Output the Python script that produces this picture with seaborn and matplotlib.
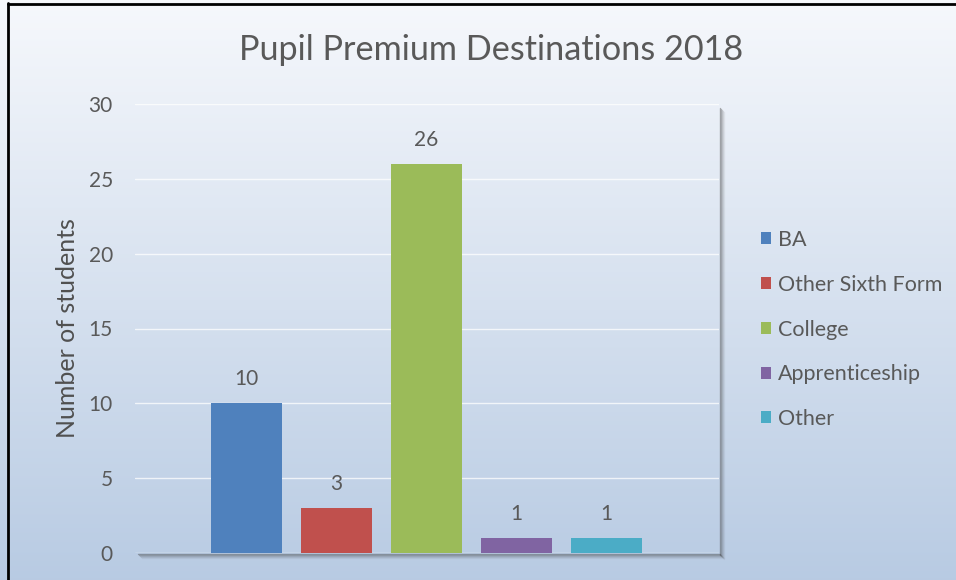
import numpy as np
import matplotlib
matplotlib.use("Agg")
import matplotlib.pyplot as plt
import seaborn as sns
from matplotlib.patches import Patch

# data
categories = ["BA", "Other Sixth Form", "College", "Apprenticeship", "Other"]
students = [10, 3, 26, 1, 1]
colors = ["#4f81bd", "#c0504d", "#9bbb59", "#8064a2", "#4bacc6"]
y_ticks = [0, 5, 10, 15, 20, 25, 30]

sns.set_theme(style="white")
plt.rcParams["font.family"] = ["Lato", "DejaVu Sans"]
text_col = "#595959"

W, H = 956, 580
fig = plt.figure(figsize=(W / 100, H / 100), dpi=100)

# background gradient + frame + plot shadow
bg = fig.add_axes([0, 0, 1, 1], zorder=0)
grad = np.linspace(0, 1, 256).reshape(-1, 1)
top = np.array([0.965, 0.973, 0.988])
bot = np.array([0.722, 0.796, 0.890])
img = top + grad[..., None] * (bot - top)
bg.imshow(img, extent=[0, W, H, 0], aspect="auto")
bg.set_xlim(0, W)
bg.set_ylim(H, 0)
bg.axis("off")
# shadow on right and bottom of plot area
for i, a in enumerate([0.4, 0.3, 0.2, 0.12, 0.06]):
    bg.plot([720 + i, 720 + i], [108 + i, 555 + i], color="#404040", alpha=a, lw=1)
    bg.plot([138 + i, 720 + i], [554 + i, 554 + i], color="#404040", alpha=a, lw=1)
bg.plot([8.5, 8.5], [3, H], color="black", lw=2)
bg.plot([8, W], [3.5, 3.5], color="black", lw=2)

# main plot
ax = fig.add_axes([135 / W, 1 - 553 / H, (719 - 135) / W, (553 - 104) / H], zorder=1)
ax.set_facecolor("none")
sns.barplot(x=categories, y=students, hue=categories, palette=colors,
            width=0.79, legend=False, ax=ax, saturation=1, linewidth=0, zorder=3)
ax.set_xlim(-1.24, 5.25)
ax.set_ylim(0, 30)
ax.set_yticks(y_ticks)
ax.set_xticks([])
ax.set_xlabel("")
ax.tick_params(axis="y", length=0, pad=16, labelsize=15, labelcolor=text_col)
ax.yaxis.grid(True, color="white", lw=1.0, alpha=0.75, zorder=0)
ax.set_axisbelow(True)
for s in ax.spines.values():
    s.set_visible(False)
ax.set_ylabel("Number of students", fontsize=18, color="#505050", labelpad=7)

for cont in ax.containers:
    ax.bar_label(cont, fontsize=15, color=text_col, padding=10)

handles = [Patch(facecolor=c, edgecolor="none", label=l) for c, l in zip(colors, categories)]
fig.legend(handles=handles, loc="upper left", bbox_to_anchor=(761 / W, 1 - 230 / H),
           frameon=False, fontsize=15.5, labelcolor=text_col, handlelength=0.47,
           handleheight=0.47, handletextpad=0.3, labelspacing=1.15,
           borderpad=0, borderaxespad=0)

fig.text(491 / W, 1 - 50 / H, "Pupil Premium Destinations 2018", ha="center",
         va="center", fontsize=24.7, color=text_col)

fig.savefig("out.png", dpi=100)
